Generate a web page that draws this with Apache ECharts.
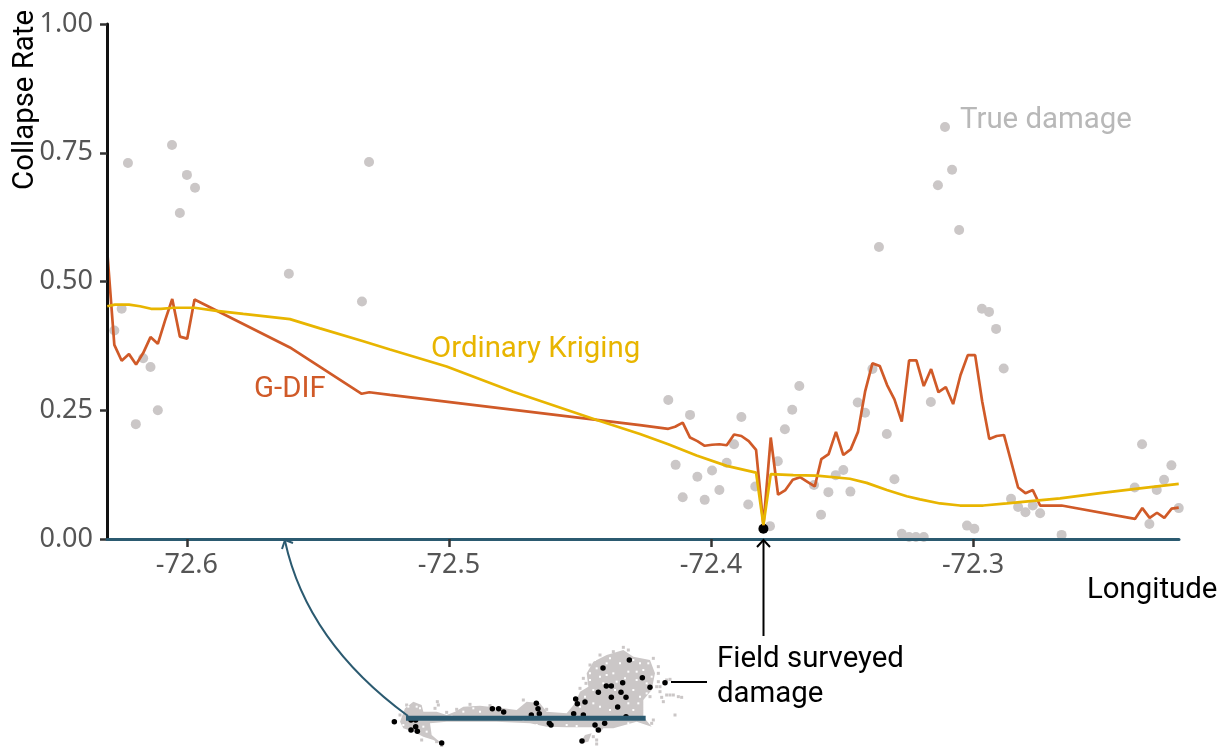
<!DOCTYPE html>
<html><head><meta charset="utf-8">
<style>html,body{margin:0;padding:0;background:#fff}#c{width:1228px;height:747px}</style>
<script src="https://cdn.jsdelivr.net/npm/echarts@6/dist/echarts.min.js"></script></head>
<body><div id="c"></div>
<script>
const xTicks=[-72.6,-72.5,-72.4,-72.3];
const yTicks=[0,0.25,0.5,0.75,1];
const gdifLon=[-72.6304,-72.6277,-72.6249,-72.6221,-72.6194,-72.6167,-72.6139,-72.6111,-72.6083,-72.6056,-72.6027,-72.5999,-72.5971,-72.5607,-72.5333,-72.5304,-72.5225,-72.4271,-72.4163,-72.4137,-72.4108,-72.4080,-72.4052,-72.4024,-72.3996,-72.3968,-72.3940,-72.3912,-72.3884,-72.3856,-72.3828,-72.3800,-72.3772,-72.3744,-72.3716,-72.3688,-72.3660,-72.3632,-72.3604,-72.3579,-72.3551,-72.3523,-72.3495,-72.3467,-72.3439,-72.3412,-72.3384,-72.3356,-72.3328,-72.3300,-72.3272,-72.3244,-72.3216,-72.3188,-72.3160,-72.3132,-72.3104,-72.3076,-72.3048,-72.3020,-72.2992,-72.2965,-72.2938,-72.2910,-72.2882,-72.2828,-72.2800,-72.2772,-72.2744,-72.2662,-72.2382,-72.2354,-72.2326,-72.2298,-72.2270,-72.2242,-72.2215];
const gdifRate=[.558,.377,.346,.359,.339,.361,.392,.379,.425,.466,.393,.389,.465,.372,.282,.285,.280,.221,.214,.218,.226,.197,.190,.181,.183,.184,.182,.203,.200,.190,.173,.027,.197,.086,.095,.115,.120,.111,.102,.155,.165,.208,.163,.174,.208,.286,.341,.336,.299,.271,.228,.347,.347,.297,.330,.285,.295,.262,.318,.357,.357,.267,.194,.200,.202,.100,.089,.095,.065,.065,.039,.060,.041,.051,.041,.059,.061];
const krigLon=[-72.6304,-72.6275,-72.6221,-72.6179,-72.6137,-72.6099,-72.6052,-72.5971,-72.5887,-72.5785,-72.5607,-72.5492,-72.5327,-72.5225,-72.5009,-72.4755,-72.4436,-72.4271,-72.4163,-72.4055,-72.3940,-72.3828,-72.3800,-72.3772,-72.3686,-72.3597,-72.3470,-72.3406,-72.3329,-72.3253,-72.3202,-72.3126,-72.3050,-72.2961,-72.2871,-72.2770,-72.2668,-72.2515,-72.2388,-72.2215];
const krigRate=[.452,.455,.455,.452,.447,.447,.449,.449,.443,.437,.427,.409,.384,.368,.335,.286,.231,.204,.184,.162,.142,.129,.027,.126,.124,.123,.117,.109,.095,.083,.077,.069,.065,.065,.069,.074,.079,.089,.097,.107];
const trueLon=[-72.6249,-72.6277,-72.6167,-72.6139,-72.6195,-72.6111,-72.5611,-72.5332,-72.6225,-72.6057,-72.6,-72.5969,-72.6027,-72.5305,-72.4163,-72.4080,-72.3884,-72.3663,-72.3690,-72.3718,-72.3440,-72.3412,-72.3384,-72.3329,-72.3912,-72.3940,-72.3996,-72.4052,-72.4135,-72.4108,-72.4024,-72.3968,-72.3858,-72.3831,-72.3745,-72.3775,-72.3607,-72.3580,-72.3552,-72.3524,-72.3495,-72.3468,-72.3300,-72.3272,-72.3244,-72.3218,-72.3188,-72.3161,-72.2883,-72.2855,-72.2828,-72.2800,-72.2772,-72.2744,-72.3023,-72.2995,-72.2662,-72.2383,-72.2355,-72.2299,-72.2271,-72.2243,-72.2327,-72.2215,-72.3359,-72.3107,-72.3080,-72.3134,-72.3053,-72.2966,-72.2939,-72.2912];
const trueRate=[.447,.405,.351,.334,.223,.250,.515,.461,.730,.765,.707,.682,.633,.732,.270,.241,.237,.297,.251,.213,.265,.245,.330,.204,.184,.148,.133,.121,.144,.081,.076,.095,.067,.102,.151,.025,.105,.047,.091,.124,.134,.092,.116,.010,.004,.004,.004,.266,.331,.078,.062,.052,.065,.050,.026,.020,.008,.100,.184,.095,.115,.143,.029,.060,.567,.800,.717,.687,.600,.447,.441,.408];
const surveyLon=[-72.38];
const surveyRate=[.02];
// Inset damage map, in the map's own units (east, south)
const mapMain=[[60,245],[75,205],[100,185],[125,195],[130,215],[160,215],[170,215],[200,225],[225,215],[250,200],[300,197],[370,205],[410,210],[440,185],[480,190],[500,215],[560,220],[585,190],[600,155],[625,140],[620,100],[640,65],[680,45],[730,30],[760,50],[810,60],[825,100],[815,150],[790,180],[790,230],[815,260],[770,245],[700,265],[670,265],[660,280],[640,262],[560,262],[500,260],[450,250],[350,245],[200,245],[150,250],[155,285],[190,315],[160,300],[130,290],[100,275],[70,265]];
const mapPatch=[[600,310],[615,285],[635,280],[625,305]];
const mapSpeckGray=[[860,120],[870,118],[880,165],[895,170],[905,172],[840,155],[850,185],[885,225],[172,185],[175,195],[165,205],[640,290],[650,300],[815,250],[840,140],[835,125],[860,165],[730,22],[650,312],[185,318],[870,165],[845,172],[610,115],[618,130],[600,145],[835,80],[835,100],[745,30],[660,45],[630,75],[700,35],[820,55],[830,140],[810,170],[200,217],[230,208],[270,193],[330,197],[430,180],[500,208],[820,240],[80,195],[60,225],[170,305],[125,300]];
const mapSpeckWhite=[[660,110],[700,100],[745,95],[770,120],[760,150],[680,70],[630,120],[790,90],[800,130],[775,190],[640,190],[660,200],[690,210],[760,210],[250,215],[300,215],[110,200],[130,260],[430,240],[720,70],[650,85],[780,70],[705,150],[745,190],[630,100],[645,60],[690,55],[760,60],[805,70],[815,110],[800,160],[780,170],[640,150],[615,170],[600,200],[780,255],[745,250],[560,255],[590,258],[470,255],[350,208],[280,205],[215,230],[85,200],[120,205],[70,255],[140,275],[735,115],[670,130],[680,105],[710,125],[770,95]];
const mapDotE=[43,93,107,107,93,112,185,337,356,371,469,474,478,454,508,513,587,592,615,581,610,645,655,674,606,655,669,679,694,694,713,723,728,738,748,787,810,855,738];
const mapDotS=[245,240,240,260,270,274,309,206,206,216,190,206,221,225,250,255,177,191,186,221,225,255,270,250,303,157,84,138,138,172,201,157,128,172,60,113,142,128,230];
const mapTransect=[[78,235],[797,235]];

const zip=(a,b)=>a.map((v,i)=>[v,b[i]]);
const TEAL='#2b5a70',GRAY='#cbc7c7',ORANGE='#d05a28',YELLOW='#e8b500';
const polys=[mapMain,mapPatch];
const txt=(text,x,y,fill,extra)=>Object.assign({type:'text',x,y,style:{text,font:'29.4px Roboto',fill,textVerticalAlign:'middle'},z:20},extra||{});
const line=(pts,stroke,w)=>({type:'polyline',shape:{points:pts},style:{stroke,lineWidth:w,fill:null},z:15});
const chart=echarts.init(document.getElementById('c'),null,{renderer:'canvas'});
chart.setOption({
 animation:false,backgroundColor:'#fff',
 grid:[{left:107,right:49,top:24,height:515},{left:380,top:640,width:320,height:107}],
 xAxis:[{type:'value',gridIndex:0,min:-72.6305,max:-72.2214,splitLine:{show:false},z:10,
   axisLine:{onZero:false,lineStyle:{color:TEAL,width:3}},
   axisTick:{show:true,customValues:xTicks,length:8,lineStyle:{color:'#333',width:2.5}},
   axisLabel:{customValues:xTicks,formatter:v=>v.toFixed(1),color:'#555',fontFamily:'Noto Sans',fontSize:27,margin:13}},
  {type:'value',gridIndex:1,min:0,max:960,show:false}],
 yAxis:[{type:'value',gridIndex:0,min:0,max:1,interval:.25,splitLine:{show:false},z:5,
   axisLine:{show:true,onZero:false,lineStyle:{color:'#111',width:3}},
   axisTick:{show:true,length:7,lineStyle:{color:'#333',width:2.5}},
   axisLabel:{customValues:yTicks,formatter:v=>v.toFixed(2),color:'#555',fontFamily:'Noto Sans',fontSize:27,margin:14}},
  {type:'value',gridIndex:1,min:0,max:321,inverse:true,show:false}],
 series:[
  {name:'True damage',type:'scatter',data:zip(trueLon,trueRate),symbolSize:10,itemStyle:{color:GRAY,opacity:1},z:2},
  {name:'Field surveyed damage',type:'scatter',data:zip(surveyLon,surveyRate),symbolSize:10,itemStyle:{color:'#000',opacity:1},z:3},
  {name:'G-DIF',type:'line',data:zip(gdifLon,gdifRate),showSymbol:false,lineStyle:{color:ORANGE,width:2.7},z:4,clip:false},
  {name:'Ordinary Kriging',type:'line',data:zip(krigLon,krigRate),showSymbol:false,lineStyle:{color:YELLOW,width:2.7},z:5,clip:false},
  {name:'map',type:'custom',xAxisIndex:1,yAxisIndex:1,data:[[0,0],[1,0]],clip:false,z:2,
   renderItem:(p,api)=>({type:'polygon',shape:{points:polys[p.dataIndex].map(q=>api.coord(q))},style:{fill:GRAY}})},
  {name:'map gray',type:'scatter',xAxisIndex:1,yAxisIndex:1,data:mapSpeckGray,symbol:'rect',symbolSize:3,itemStyle:{color:GRAY,opacity:1},z:3},
  {name:'map holes',type:'scatter',xAxisIndex:1,yAxisIndex:1,data:mapSpeckWhite,symbol:'rect',symbolSize:2,itemStyle:{color:'#fff',opacity:1},z:3},
  {name:'map dots',type:'scatter',xAxisIndex:1,yAxisIndex:1,data:zip(mapDotE,mapDotS),symbolSize:5.5,itemStyle:{color:'#000',opacity:1},z:4},
  {name:'transect',type:'line',xAxisIndex:1,yAxisIndex:1,data:mapTransect,showSymbol:false,lineStyle:{color:TEAL,width:5,cap:'butt'},z:5}
 ],
 graphic:[
  txt('True damage',960,121,'#b8b8b8'),
  txt('Ordinary Kriging',431,350,YELLOW),
  txt('G-DIF',254,390,ORANGE),
  txt('Longitude',1087,591,'#000'),
  txt('Field surveyed',717,660,'#000'),
  txt('damage',717,695,'#000'),
  Object.assign(txt('Collapse Rate',0,0,'#000'),{x:26,y:190,rotation:Math.PI/2}),
  {type:'bezierCurve',shape:{x1:408,y1:716,cpx1:307,cpy1:642,x2:285,y2:541},style:{stroke:TEAL,lineWidth:2,fill:null},z:15},
  line([[282,549],[285,540],[293,543]],TEAL,2),
  line([[763.5,636],[763.5,541]],'#000',2),
  line([[757,547],[763.5,540],[770,547]],'#000',2),
  line([[671,682],[707,682]],'#000',2)
 ]
});
</script></body></html>
